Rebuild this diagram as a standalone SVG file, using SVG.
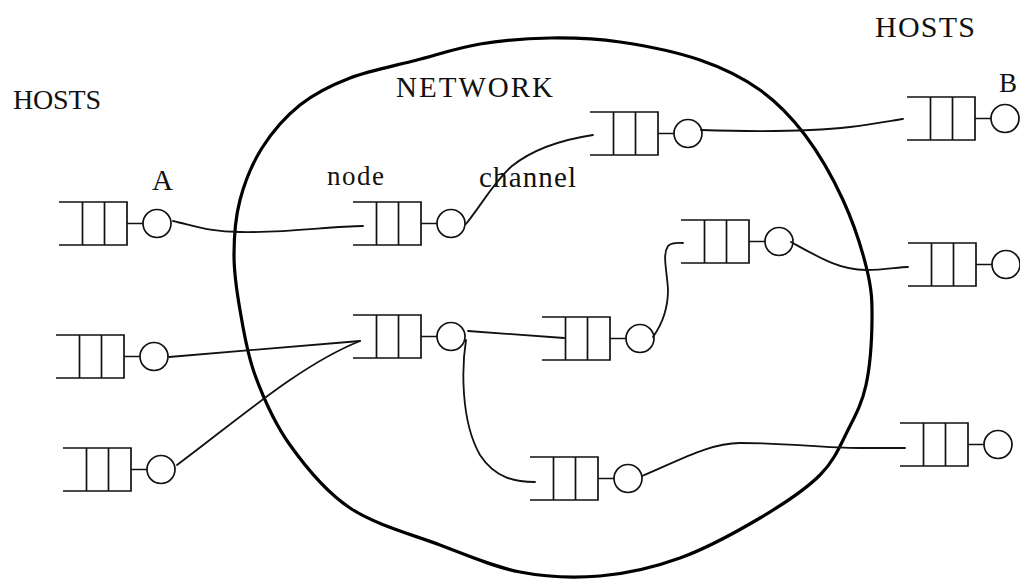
<svg xmlns="http://www.w3.org/2000/svg" xmlns:xlink="http://www.w3.org/1999/xlink" width="1020" height="583" viewBox="0 0 1020 583">
<style>
.q{fill:none;stroke:#111;stroke-width:1.7}
.c{fill:none;stroke:#111;stroke-width:1.8;stroke-linecap:round}
.net{fill:none;stroke:#000;stroke-width:3.2}
.t{font-family:"Liberation Serif","Times New Roman",serif;fill:#111}
</style>
<defs>
<g id="queue">
<path class="q" d="M0,0 H68 V43 H0 M23.5,0 V43 M45.5,0 V43 M68,21.5 H84"/>
<circle class="q" cx="98" cy="21.5" r="14" fill="#fff"/>
</g>
</defs>
<rect width="1020" height="583" fill="#fff"/>
<path class="net" d="M417,60 C438.7,54.3 457.8,47.7 480,44 C502.2,40.3 526.7,38.3 550,38 C573.3,37.7 595,38.3 620,42 C645,45.7 676.7,52 700,60 C723.3,68 742.5,77.5 760,90 C777.5,102.5 791.2,116.7 805,135 C818.8,153.3 832.7,177.5 843,200 C853.3,222.5 862.2,250 867,270 C871.8,290 872.2,300.8 872,320 C871.8,339.2 870,366.7 866,385 C862,403.3 855.7,415 848,430 C840.3,445 834.7,460.3 820,475 C805.3,489.7 783.3,504.2 760,518 C736.7,531.8 706.7,548.3 680,558 C653.3,567.7 626.7,573.7 600,576 C573.3,578.3 546.7,577.2 520,572 C493.3,566.8 468.3,555.7 440,545 C411.7,534.3 375,524.7 350,508 C325,491.3 305.8,467.2 290,445 C274.2,422.8 263.3,397.5 255,375 C246.7,352.5 243.5,330 240,310 C236.5,290 234,273.3 234,255 C234,236.7 235.3,217.8 240,200 C244.7,182.2 252,163.8 262,148 C272,132.2 285.3,116.7 300,105 C314.7,93.3 330.5,85.5 350,78 C369.5,70.5 395.3,65.7 417,60 Z"/>
<g id="connectors">
<path class="c" d="M173,221 C195,226 210,232 240,232 C290,233 330,226 363,226"/>
<path class="c" d="M466,224 C482,204 494,182 512,166 C532,150 560,140 593,135"/>
<path class="c" d="M701,130 C760,132 815,131 850,127 C875,124 890,121 903,119"/>
<path class="c" d="M169,357 L360,341"/>
<path class="c" d="M177,465 C240,418 300,365 360,341"/>
<path class="c" d="M468,331 L564,338"/>
<path class="c" d="M466,340 C462,365 460,420 480,455 C495,478 515,482 535,482"/>
<path class="c" d="M653,337 C665,320 668,305 668,290 C667,270 662,255 668,246 C672,242 678,243 683,243"/>
<path class="c" d="M791,242 C820,258 840,270 866,270 C885,270 898,267 908,267"/>
<path class="c" d="M642,476 C680,460 710,443 740,443 C790,443 820,448 860,448 L905,448"/>
</g>
<g id="hostA"><use xlink:href="#queue" x="59" y="202"/></g>
<g id="host2"><use xlink:href="#queue" x="56" y="335"/></g>
<g id="host3"><use xlink:href="#queue" x="63" y="448"/></g>
<g id="node1"><use xlink:href="#queue" x="353" y="202"/></g>
<g id="node2"><use xlink:href="#queue" x="353" y="315"/></g>
<g id="node3"><use xlink:href="#queue" x="542" y="317"/></g>
<g id="node4"><use xlink:href="#queue" x="530" y="457"/></g>
<g id="nodeTop"><use xlink:href="#queue" x="590" y="112"/></g>
<g id="nodeMid"><use xlink:href="#queue" x="681" y="220"/></g>
<g id="hostB"><use xlink:href="#queue" x="907" y="97"/></g>
<g id="hostR2"><use xlink:href="#queue" x="908" y="243"/></g>
<g id="hostR3"><use xlink:href="#queue" x="900" y="423"/></g>
<g id="labels">
<text class="t" x="13" y="109" font-size="28" textLength="88">HOSTS</text>
<text class="t" x="875" y="37" font-size="30" textLength="100">HOSTS</text>
<text class="t" x="396" y="97" font-size="29" textLength="157">NETWORK</text>
<text class="t" x="152" y="190" font-size="29">A</text>
<text class="t" x="999" y="92" font-size="27">B</text>
<text class="t" x="327" y="185" font-size="27" textLength="57">node</text>
<text class="t" x="479" y="187" font-size="29" textLength="97">channel</text>
</g>
</svg>
